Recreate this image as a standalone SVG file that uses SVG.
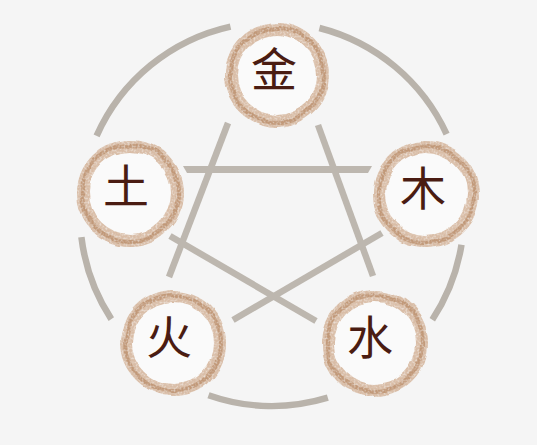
<svg xmlns="http://www.w3.org/2000/svg" width="537" height="445" viewBox="0 0 537 445">
<defs>
<style>
.arc{fill:none;stroke:#b9b3ab;stroke-width:6.5;stroke-linecap:butt}
.bar{stroke:#bdb7af;stroke-width:6.5;stroke-linecap:butt}
.in{fill:#fafafa}
.ringa{fill:none;stroke:#d4b398;stroke-width:12;opacity:0.85}
.ringb{fill:none;stroke:#b88a67;stroke-width:4;opacity:0.7}
.ch{font-family:"Noto Sans CJK SC","Noto Sans CJK JP",sans-serif;font-size:46px;font-weight:400;fill:#4a1c12;text-anchor:middle;dominant-baseline:central}
</style>
<filter id="rough" x="-20%" y="-20%" width="140%" height="140%">
<feTurbulence type="fractalNoise" baseFrequency="0.035" numOctaves="2" seed="7" result="n"/>
<feDisplacementMap in="SourceGraphic" in2="n" scale="6" xChannelSelector="R" yChannelSelector="G" result="d"/>
<feTurbulence type="fractalNoise" baseFrequency="0.5" numOctaves="2" seed="3" result="g"/>
<feColorMatrix in="g" type="matrix" values="0 0 0 0 0  0 0 0 0 0  0 0 0 0 0  0 0 0 -1.4 1.6" result="ga"/>
<feComposite in="d" in2="ga" operator="in" result="t"/>
<feGaussianBlur in="t" stdDeviation="0.7"/>
</filter>
</defs>
<rect width="537" height="445" fill="#f5f5f5"/>
<g id="connectors">
<path class="arc" d="M319.4,28 A192,192 0 0 1 446.6,134.1"/>
<path class="arc" d="M461.5,244.7 A192,192 0 0 1 432.3,319.7"/>
<path class="arc" d="M327.8,397.7 A192,192 0 0 1 208.5,395.2"/>
<path class="arc" d="M111.3,319.1 A192,192 0 0 1 81.4,237.1"/>
<path class="arc" d="M96.6,135.9 A192,192 0 0 1 230.5,26.6"/>
<polygon fill="#bdb7af" points="183,166 372,166 368,173 187,173"/>
<line class="bar" x1="228" y1="123" x2="169" y2="277"/>
<line class="bar" x1="318" y1="125" x2="373" y2="276"/>
<line class="bar" x1="170" y1="236" x2="316" y2="321"/>
<line class="bar" x1="382" y1="233" x2="233" y2="320"/>
</g>
<g id="metal">
<circle class="in" cx="277" cy="75" r="44"/>
<g filter="url(#rough)"><circle class="ringa" cx="277" cy="75" r="46"/><circle class="ringb" cx="277" cy="75" r="47"/></g>
<text class="ch" x="274" y="66">金</text>
</g>
<g id="wood">
<circle class="in" cx="426" cy="194" r="45"/>
<g filter="url(#rough)"><circle class="ringa" cx="426" cy="194" r="47"/><circle class="ringb" cx="426" cy="194" r="48"/></g>
<text class="ch" x="423" y="185">木</text>
</g>
<g id="water">
<circle class="in" cx="375" cy="343" r="45"/>
<g filter="url(#rough)"><circle class="ringa" cx="375" cy="343" r="47"/><circle class="ringb" cx="375" cy="343" r="48"/></g>
<text class="ch" x="370" y="334">水</text>
</g>
<g id="fire">
<circle class="in" cx="173" cy="343" r="45"/>
<g filter="url(#rough)"><circle class="ringa" cx="173" cy="343" r="47"/><circle class="ringb" cx="173" cy="343" r="48"/></g>
<text class="ch" x="169" y="334">火</text>
</g>
<g id="earth">
<circle class="in" cx="130" cy="193" r="45"/>
<g filter="url(#rough)"><circle class="ringa" cx="130" cy="193" r="47"/><circle class="ringb" cx="130" cy="193" r="48"/></g>
<text class="ch" x="126" y="183">土</text>
</g>
</svg>
